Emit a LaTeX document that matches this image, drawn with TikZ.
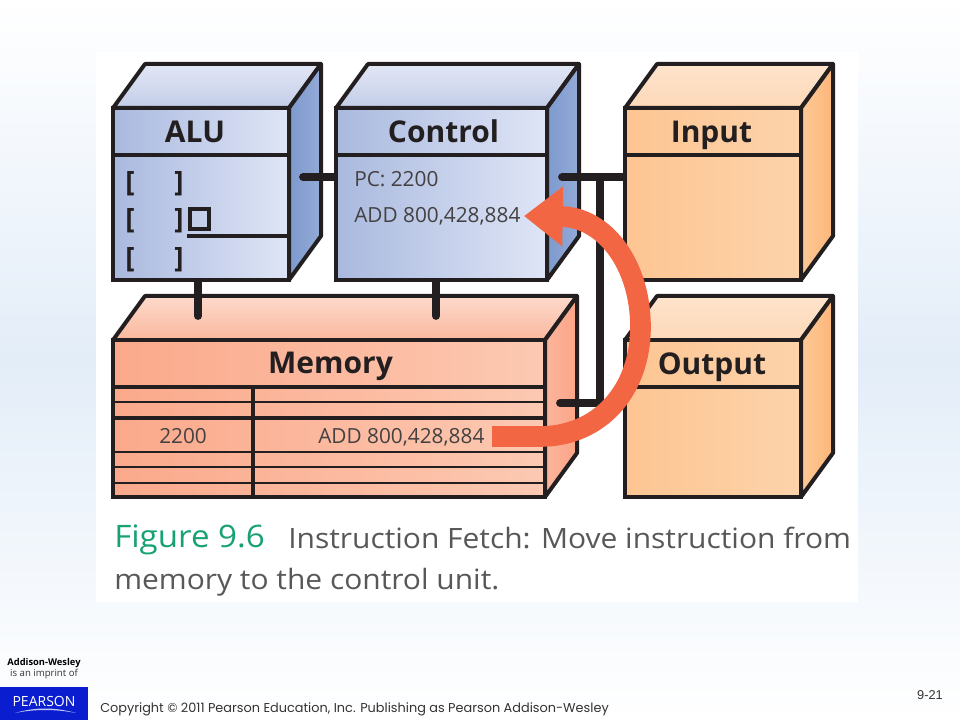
\documentclass[tikz,border=0pt]{standalone}
\usepackage{fontspec}
\setmainfont{Open Sans}
\newfontfamily\capfont[FakeStretch=1.07]{Open Sans}
\newfontfamily\footfont{Poppins}
\newfontfamily\pagefont{Liberation Sans}
\usetikzlibrary{fit,arrows.meta}

\definecolor{blueleft}{HTML}{A9B9DE}
\definecolor{blueright}{HTML}{DFE5F6}
\definecolor{bluetopa}{HTML}{C3CDE8}
\definecolor{bluetopb}{HTML}{E2E7F5}
\definecolor{bluesidea}{HTML}{7D99CC}
\definecolor{bluesideb}{HTML}{94ABD8}
\definecolor{orangeleft}{HTML}{FDC592}
\definecolor{orangeright}{HTML}{FDD3AB}
\definecolor{orangetopa}{HTML}{FDD9B8}
\definecolor{orangetopb}{HTML}{FEE3CC}
\definecolor{orangesidea}{HTML}{FDC997}
\definecolor{orangesideb}{HTML}{FDB679}
\definecolor{salmonleft}{HTML}{FBA98B}
\definecolor{salmonright}{HTML}{FCC9B2}
\definecolor{salmontopa}{HTML}{FAB89E}
\definecolor{salmontopb}{HTML}{FDDACB}
\definecolor{salmonsidea}{HTML}{FBB69C}
\definecolor{salmonsideb}{HTML}{FBA487}
\definecolor{inkblack}{HTML}{231F20}
\definecolor{fetchred}{HTML}{F26644}
\definecolor{figgreen}{HTML}{18A272}
\definecolor{capgray}{HTML}{58585A}
\definecolor{pearsonblue}{HTML}{0A1ECF}
\definecolor{pagemid}{HTML}{E3EDF8}

\begin{document}
\begin{tikzpicture}
  [x=0.75pt, y=-0.75pt,
   frontface/.style={draw=inkblack, line width=3pt, inner sep=0pt, outer sep=0pt},
   facedge/.style={draw=inkblack, line width=3pt, line join=round},
   rule/.style={draw=inkblack, line width=3pt},
   thinrule/.style={draw=inkblack, line width=2.2pt},
   bus/.style={draw=inkblack, line width=5.8pt, line cap=round, shorten >=2pt},
   title/.style={font=\bfseries\fontsize{22.5}{24}\selectfont, text=inkblack, inner sep=0pt, anchor=base},
   cell/.style={font=\fontsize{15.6}{17}\selectfont, text=inkblack!85, inner sep=0pt, anchor=base west},
   bracket/.style={font=\bfseries\fontsize{21}{24}\selectfont, text=inkblack, inner sep=0pt},
   caption/.style={font=\capfont\fontsize{21}{24}\selectfont, text=capgray, inner sep=0pt, anchor=base west},
   fetch/.style={draw=fetchred, line width=15.5pt, -{Triangle[length=29pt,width=43pt,fill=fetchred]}}]
  \useasboundingbox (0,0) rectangle (960,720);

  % page and panel
  \shade[top color=white, bottom color=white, middle color=pagemid] (0,0) rectangle (960,720);
  \fill[white] (96,52) rectangle (858,602);

  % the five boxes
  \foreach \name/\xa/\xb/\ya/\yb/\c in {alu/113/289/108/280/blue, control/336/547/108/280/blue,
      input/625/801/108/280/orange, memory/113/545/340/497/salmon, output/625/801/340/497/orange}{
    \path[facedge, bottom color=\c topa, top color=\c topb]
      (\xa,\ya) -- ++(32,-44) -- (\xb+32,\ya-44) -- (\xb,\ya) -- cycle;
    \path[facedge, left color=\c sidea, right color=\c sideb]
      (\xb,\ya) -- (\xb+32,\ya-44) -- (\xb+32,\yb-44) -- (\xb,\yb) -- cycle;
    \node[frontface, fit={(\xa,\ya) (\xb,\yb)}, left color=\c left, right color=\c right] (\name) {};
    \draw[rule] (\xa,\ya+47) -- (\xb,\ya+47);
  }

  % titles
  \node[title] (alutitle) at (195,143) {ALU};
  \node[title] (controltitle) at (443.5,143) {Control};
  \node[title] (inputtitle) at (711.5,143) {Input};
  \node[title] (memorytitle) at (330.5,373) {Memory};
  \node[title] (outputtitle) at (712,374) {Output};

  % ALU registers
  \foreach \n/\y in {a/184, b/221, c/260}{
    \node[bracket] (lb\n) at (130,\y) {[};
    \node[bracket] (rb\n) at (179,\y) {]};
  }
  \draw[rule] (189.5,209.5) rectangle (208.5,229.5);
  \draw[rule] (187,236) -- (alu.east |- 0,236);

  % Control text
  \node[cell] (pctext) at (354,186.5) {PC: 2200};
  \node[cell] (addtext) at (354,223) {ADD 800,428,884};

  % Memory rows
  \foreach \y in {402,452,467,483}{
    \draw[thinrule] (memory.west |- 0,\y) -- (memory.east |- 0,\y);
  }
  \draw[rule] (memory.west |- 0,418) -- (memory.east |- 0,418);
  \draw[rule] (253,387) -- (253,497);
  \node[cell] (addrtext) at (159,443) {2200};
  \node[cell] (wordtext) at (318,443) {ADD 800,428,884};

  % buses
  \coordinate (aluport) at (303,177);
  \coordinate (alufoot) at (198,316);
  \coordinate (ctrlfoot) at (436,316);
  \coordinate (ctrlport) at (562,177);
  \coordinate (busjoin) at (600,177);
  \coordinate (busend) at (600,403);
  \coordinate (memport) at (560,403);
  \draw[bus] (aluport) -- (aluport -| control.west);
  \draw[bus] (alufoot) -- (alufoot |- alu.south);
  \draw[bus] (ctrlfoot) -- (ctrlfoot |- control.south);
  \draw[bus] (ctrlport) -- (ctrlport -| input.west);
  \draw[bus, line cap=butt, shorten >=0pt] (busjoin) -- (busend);
  \draw[bus] (memport) -- (busend);

  % instruction fetch
  \coordinate (fetchstart) at (492,436.5);
  \coordinate (fetchend) at (524,216);
  \draw[fetch] (fetchstart) -- (540,436.5) .. controls (600,436.5) and (640.5,390) .. (640.5,327)
     .. controls (640.5,265) and (605,217) .. (fetchend);

  % caption
  \node[caption, text=figgreen, font=\capfont\fontsize{23.2}{26}\selectfont] (figlabel) at (114,547) {Figure 9.6};
  \node[caption] (capone) at (288,548) {Instruction Fetch: Move instruction from};
  \node[caption] (captwo) at (114,589) {memory to the control unit.};

  % footer
  \node[font=\bfseries\fontsize{7}{9}\selectfont, inner sep=0pt] (awname) at (44,663) {Addison-Wesley};
  \node[font=\fontsize{7.2}{9}\selectfont, text=black!80, inner sep=0pt] (imprint) at (44,674) {is an imprint of};
  \fill[pearsonblue] (0,687) rectangle (88,720);
  \node[font=\fontsize{10.5}{12}\selectfont, text=white, inner sep=0pt] (pearson) at (44,701) {PEARSON};
  \fill[white!75!pearsonblue] (15,713) .. controls (35,707) and (55,707) .. (76,713) .. controls (55,709) and (35,709) .. (15,713) -- cycle;
  \node[font=\footfont\fontsize{9.64}{11}\selectfont, text=black!80, inner sep=0pt, anchor=base west] (copyright) at (100,712)
    {Copyright © 2011 Pearson Education, Inc. Publishing as Pearson Addison-Wesley};
  \node[font=\pagefont\fontsize{9.6}{11}\selectfont, text=black!80, inner sep=0pt] (pagenum) at (930,695) {9-21};
\end{tikzpicture}
\end{document}
